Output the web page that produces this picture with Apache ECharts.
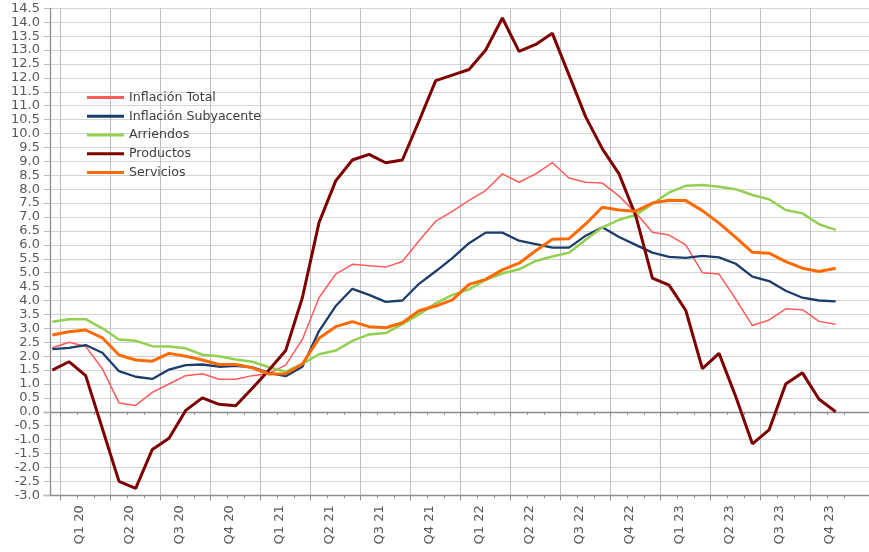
<!DOCTYPE html>
<html>
<head>
<meta charset="utf-8">
<script src="https://cdn.jsdelivr.net/npm/echarts@6/dist/echarts.min.js"></script>
<style>
  html, body { margin: 0; padding: 0; background: #fff; }
  #chart { width: 869px; height: 552px; }
</style>
</head>
<body>
<div id="chart"></div>
<script>
'use strict';

// etiquetas de trimestre (una cada tres meses, en marzo, junio, ...)
var trimestres = ['Q1 20', 'Q2 20', 'Q3 20', 'Q4 20', 'Q1 21', 'Q2 21', 'Q3 21', 'Q4 21',
                  'Q1 22', 'Q2 22', 'Q3 22', 'Q4 22', 'Q1 23', 'Q2 23', 'Q3 23', 'Q4 23'];

var inflacionTotal = [2.3, 2.5, 2.35, 1.55, 0.32, 0.23, 0.7, 1.0, 1.3, 1.37, 1.17, 1.17,
                      1.3, 1.38, 1.68, 2.6, 4.1, 4.95, 5.3, 5.25, 5.2, 5.4, 6.15, 6.85,
                      7.2, 7.6, 7.95, 8.55, 8.25, 8.55, 8.95, 8.4, 8.25, 8.22, 7.75, 7.15,
                      6.45, 6.35, 6.0, 5.0, 4.95, 4.05, 3.1, 3.3, 3.7, 3.67, 3.25, 3.15];

var subyacente = [2.25, 2.3, 2.4, 2.12, 1.46, 1.26, 1.18, 1.52, 1.68, 1.7, 1.62, 1.65,
                  1.6, 1.4, 1.28, 1.62, 2.9, 3.8, 4.42, 4.2, 3.95, 4.0, 4.6, 5.05,
                  5.52, 6.06, 6.44, 6.44, 6.15, 6.03, 5.9, 5.9, 6.33, 6.63, 6.28, 6.0,
                  5.72, 5.57, 5.53, 5.6, 5.55, 5.32, 4.86, 4.7, 4.35, 4.1, 4.0, 3.97];

var arriendos = [3.24, 3.33, 3.33, 3.0, 2.6, 2.55, 2.36, 2.35, 2.28, 2.05, 2.0, 1.88,
                 1.8, 1.6, 1.44, 1.72, 2.07, 2.2, 2.55, 2.78, 2.83, 3.15, 3.5, 3.9,
                 4.2, 4.4, 4.74, 4.97, 5.12, 5.42, 5.58, 5.72, 6.18, 6.63, 6.9, 7.07,
                 7.47, 7.88, 8.12, 8.15, 8.09, 8.0, 7.79, 7.64, 7.25, 7.13, 6.74, 6.54];

var productos = [1.5, 1.8, 1.3, -0.6, -2.5, -2.75, -1.35, -0.95, 0.05, 0.5, 0.27, 0.22,
                 0.85, 1.5, 2.2, 4.1, 6.8, 8.3, 9.05, 9.25, 8.95, 9.05, 10.45, 11.9,
                 12.1, 12.3, 13.0, 14.15, 12.95, 13.2, 13.6, 12.1, 10.6, 9.45, 8.55, 7.05,
                 4.8, 4.55, 3.65, 1.55, 2.1, 0.55, -1.15, -0.65, 1.0, 1.4, 0.45, 0.0];

var servicios = [2.76, 2.88, 2.94, 2.66, 2.04, 1.86, 1.82, 2.1, 2.0, 1.86, 1.7, 1.7,
                 1.58, 1.36, 1.37, 1.72, 2.64, 3.06, 3.24, 3.06, 3.02, 3.2, 3.63, 3.8,
                 4.02, 4.58, 4.76, 5.1, 5.34, 5.79, 6.2, 6.22, 6.75, 7.35, 7.25, 7.21,
                 7.5, 7.6, 7.59, 7.23, 6.78, 6.27, 5.73, 5.7, 5.4, 5.16, 5.04, 5.16];

// meses ene-20 .. dic-23, mas dos huecos vacios a la derecha
var meses = [];
for (var a = 20; a <= 23; a++) {
    for (var m = 1; m <= 12; m++) {
        meses.push(m + '-' + a);
    }
}
meses.push('', '');

var fuente = 'DejaVu Sans';
var colorEje = '#8c8c8c';

function esMayor(i) { return i % 3 === 1 && i <= 46; }
function esMenor(i) { return i >= 1 && i <= 48; }

// ejes x: abajo (linea, ticks, etiquetas) y en el cero (linea y ticks)
function ejeX(enCero, mayor) {
    return {
        type: 'category',
        data: meses,
        boundaryGap: true,
        position: 'bottom',
        axisLine: {
            show: !mayor,
            onZero: enCero,
            onZeroAxisIndex: 0,
            lineStyle: { color: colorEje, width: 1.3 }
        },
        axisTick: {
            show: true,
            interval: mayor ? esMayor : esMenor,
            length: mayor ? 5 : 3,
            lineStyle: { color: colorEje }
        },
        axisLabel: { show: false },
        splitLine: {
            show: mayor && !enCero,
            interval: esMayor,
            lineStyle: { color: '#b9c0c3', width: 1 }
        }
    };
}

var ejeBase = ejeX(false, false);
ejeBase.axisLabel = {
    show: true,
    interval: function (i) { return i % 3 === 2 && i < 48; },
    formatter: function (v, i) { return trimestres[(i - 2) / 3]; },
    rotate: 90,
    margin: 10,
    verticalAlign: 'bottom',
    lineHeight: 13,
    fontSize: 13,
    fontFamily: fuente,
    color: '#595959'
};

var nombres = ['Inflación Total', 'Inflación Subyacente', 'Arriendos', 'Productos', 'Servicios'];
var datos = [inflacionTotal, subyacente, arriendos, productos, servicios];
var colores = ['#ff5a5a', '#1c3d6b', '#92d050', '#7f0000', '#ff6a00'];
var anchos = [1.5, 2.3, 2.5, 3, 3];

var myChart = echarts.init(document.getElementById('chart'), null, { renderer: 'canvas' });

var option = {
    animation: false,
    backgroundColor: '#ffffff',
    grid: {
        left: 44,
        right: -8.4,
        top: 8.3,
        bottom: 56.7,
        containLabel: false,
        outerBoundsMode: 'none'
    },
    legend: {
        orient: 'vertical',
        left: 82,
        top: 85.5,
        icon: 'rect',
        itemWidth: 37,
        itemHeight: 3,
        itemGap: 4.75,
        data: nombres,
        textStyle: {
            fontFamily: fuente,
            fontSize: 12.6,
            lineHeight: 14,
            color: '#404040'
        }
    },
    xAxis: [
        ejeBase,
        ejeX(false, true),
        ejeX(true, false),
        ejeX(true, true)
    ],
    yAxis: {
        type: 'value',
        min: -3,
        max: 14.5,
        interval: 0.5,
        offset: -6,
        axisLine: { show: true, lineStyle: { color: colorEje, width: 1.3 } },
        axisTick: { show: true, length: 6, lineStyle: { color: '#bdbdbd' } },
        axisLabel: {
            margin: 10,
            fontSize: 13,
            fontFamily: fuente,
            color: '#595959',
            formatter: function (v) { return v.toFixed(1); }
        },
        splitLine: { show: true, lineStyle: { color: '#d4d4d4', width: 1 } }
    },
    series: nombres.map(function (nombre, k) {
        return {
            name: nombre,
            type: 'line',
            xAxisIndex: 0,
            data: datos[k],
            showSymbol: false,
            symbol: 'none',
            color: colores[k],
            lineStyle: { color: colores[k], width: anchos[k] }
        };
    })
};

myChart.setOption(option);
</script>
</body>
</html>
